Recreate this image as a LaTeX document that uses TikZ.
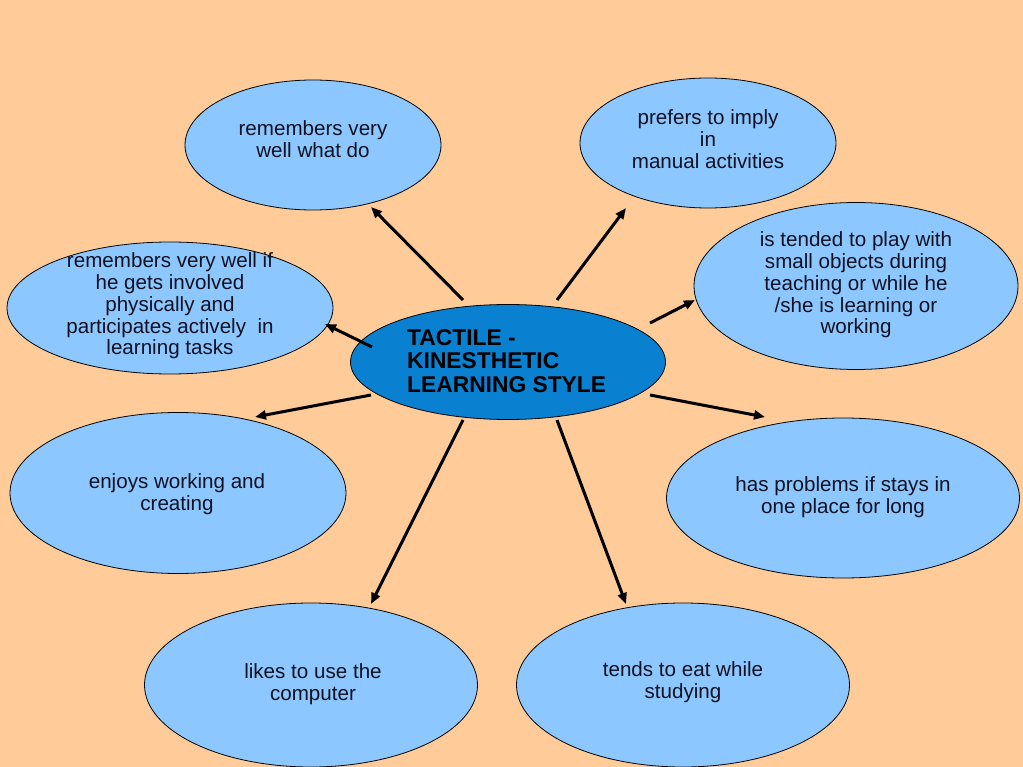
\documentclass[tikz,border=0pt]{standalone}
\usepackage{fontspec}
\setmainfont{Liberation Sans}
\usetikzlibrary{arrows.meta,shapes.geometric}
\definecolor{bg}{HTML}{FFCC99}
\definecolor{lblue}{HTML}{8CC8FF}
\definecolor{dblue}{HTML}{0A80D0}
\definecolor{txt}{HTML}{111122}
\begin{document}
\begin{tikzpicture}[x=1pt,y=-1pt,
  bubble/.style={ellipse,draw=black,line width=0.8pt,fill=lblue,inner sep=0pt},
  centre/.style={ellipse,draw=black,line width=0.8pt,fill=dblue,inner sep=0pt},
  label/.style={align=center,font=\fontsize{20.6}{21.7}\selectfont,text=txt,inner sep=0pt},
  arr/.style={line width=3pt,-{Triangle[length=11pt,width=9pt]}}]
\fill[bg] (0,0) rectangle (1023,767);
\useasboundingbox (0,0) rectangle (1023,767);
% ellipses
\node[bubble,minimum width=256pt,minimum height=130pt] (e1) at (313,145) {};
\node[bubble,minimum width=256pt,minimum height=130pt] (e2) at (708,143) {};
\node[bubble,minimum width=324pt,minimum height=167pt] (e3) at (856,286) {};
\node[bubble,minimum width=326pt,minimum height=132pt] (e4) at (170,308) {};
\node[bubble,minimum width=336pt,minimum height=161pt] (e6) at (178,493) {};
\node[bubble,minimum width=353pt,minimum height=160pt] (e7) at (843,498) {};
\node[bubble,minimum width=333pt,minimum height=164pt] (e8) at (311,685) {};
\node[bubble,minimum width=333pt,minimum height=164pt] (e9) at (683,685) {};
\node[centre,minimum width=315pt,minimum height=115pt] (c) at (508,362) {};
% texts
\node[label] (t1) at (313,139) {remembers very\\well what do};
\node[label] (t2) at (708,139) {prefers to imply\\in\\manual activities};
\node[label] (t3) at (856,285) {is tended to play with\\small objects during\\teaching or while he\\/she is learning or\\working};
\node[label] (t4) at (170,306) {remembers very well if\\he gets involved\\physically and\\participates actively\ \ in\\learning tasks};
\node[label] (t6) at (177,494) {enjoys working and\\creating};
\node[label] (t7) at (843,497) {has problems if stays in\\one place for long};
\node[label] (t8) at (313,684) {likes to use the\\computer};
\node[label] (t9) at (683,682) {tends to eat while\\studying};
\node[align=left,anchor=west,font=\bfseries\fontsize{22.8}{23.5}\selectfont,text=black,inner sep=0pt] (tc) at (407,361) {TACTILE -\\KINESTHETIC\\LEARNING STYLE};
% arrow ends
\coordinate (s1) at (463,300); \coordinate (d1) at (371,207);
\coordinate (s2) at (557,300); \coordinate (d2) at (626,208);
\coordinate (s3) at (650,323); \coordinate (d3) at (695,300);
\coordinate (s4) at (372,347); \coordinate (d4) at (325,324);
\coordinate (s6) at (371,395); \coordinate (d6) at (255,417);
\coordinate (s7) at (650,395); \coordinate (d7) at (765,417);
\coordinate (s8) at (463,420); \coordinate (d8) at (371,604);
\coordinate (s9) at (557,420); \coordinate (d9) at (626,604);
\foreach \i in {1,2,3,4,6,7,8,9} {\draw[arr] (s\i) -- (d\i);}
\end{tikzpicture}
\end{document}
